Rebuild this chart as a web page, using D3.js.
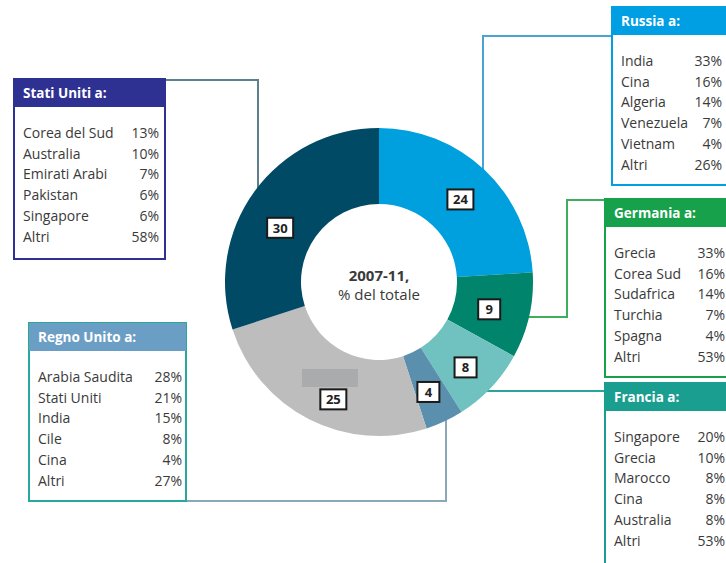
<!DOCTYPE html>
<html>
<head>
<meta charset="utf-8">
<script src="https://cdn.jsdelivr.net/npm/d3@7"></script>
<style>
  body { margin: 0; background: #fff; }
  svg { display: block; font-family: "Open Sans", "Noto Sans", sans-serif; }
</style>
</head>
<body>
<svg id="chart"></svg>
<script>
const w = 726;
const h = 563;

const svg = d3.select("#chart")
  .attr("width", w)
  .attr("height", h)
  .attr("viewBox", [0, 0, w, h]);

// quota esportazioni armi 2007-11, clockwise from 12 o'clock
const slices = [
  { key: "Russia", value: 24, color: "#009fde", nudge: [2, 2] },
  { key: "Germania", value: 9, color: "#00846c", nudge: [-3, 2] },
  { key: "Francia", value: 8, color: "#6fc2c0", nudge: [2, 6] },
  { key: "Regno Unito", value: 4, color: "#5a8fae", nudge: [0, 5] },
  { key: "Altri", value: 25, color: "#bdbdbd", nudge: [7, 14] },
  { key: "Stati Uniti", value: 30, color: "#004a66", nudge: [-5, 14] }
];

const boxes = [
  { title: "Stati Uniti a:", x: 14, y: 79, width: 151, height: 180, head: "#2e3192", border: "#2e3192",
    line: "#5e7f8c", path: [[165, 80], [258, 80], [258, 200]], valueX: 159,
    rows: [["Corea del Sud", 13], ["Australia", 10], ["Emirati Arabi", 7], ["Pakistan", 6], ["Singapore", 6], ["Altri", 58]] },
  { title: "Russia a:", x: 612, y: 7, width: 130, height: 178, head: "#009fe3", border: "#009fe3",
    line: "#4aa3d0", path: [[612, 36], [483, 36], [483, 180]], valueX: 722,
    rows: [["India", 33], ["Cina", 16], ["Algeria", 14], ["Venezuela", 7], ["Vietnam", 4], ["Altri", 26]] },
  { title: "Germania a:", x: 605, y: 199, width: 130, height: 178, head: "#18a14b", border: "#18a14b",
    line: "#3fae5a", path: [[605, 200], [567, 200], [567, 317], [500, 317]], valueX: 725,
    rows: [["Grecia", 33], ["Corea Sud", 16], ["Sudafrica", 14], ["Turchia", 7], ["Spagna", 4], ["Altri", 53]] },
  { title: "Francia a:", x: 605, y: 383, width: 130, height: 190, head: "#1a9e8f", border: "#1a9e8f",
    line: "#2aa59b", path: [[605, 391], [470, 391]], valueX: 725,
    rows: [["Singapore", 20], ["Grecia", 10], ["Marocco", 8], ["Cina", 8], ["Australia", 8], ["Altri", 53]] },
  { title: "Regno Unito a:", x: 29, y: 323, width: 157, height: 178, head: "#6b9ec5", border: "#2aa79b",
    line: "#8aa8b8", path: [[186, 501], [446, 501], [446, 400]], valueX: 182,
    rows: [["Arabia Saudita", 28], ["Stati Uniti", 21], ["India", 15], ["Cile", 8], ["Cina", 4], ["Altri", 27]] }
];

const cx = 379;
const cy = 282;
const outerR = 154;
const innerR = 78;

drawConnectors(boxes);
drawDonut(slices);
drawBoxes(boxes);

function drawConnectors(data) {
  const line = d3.line();
  svg.append("g")
    .selectAll("path")
    .data(data)
    .enter()
    .append("path")
    .attr("d", d => line(d.path))
    .attr("fill", "none")
    .attr("stroke", d => d.line)
    .attr("stroke-width", 2);
}

function drawDonut(data) {
  const pie = d3.pie().sort(null).value(d => d.value);
  const arc = d3.arc().innerRadius(innerR).outerRadius(outerR);
  const arcs = pie(data);

  const g = svg.append("g")
    .attr("transform", `translate(${cx}, ${cy})`);

  g.selectAll("path")
    .data(arcs)
    .enter()
    .append("path")
    .attr("d", arc)
    .attr("fill", d => d.data.color);

  // smudge on the grey slice, as in the original print
  g.append("rect")
    .attr("x", 302 - cx)
    .attr("y", 369 - cy)
    .attr("width", 56)
    .attr("height", 18)
    .attr("fill", "#aaabad");

  const labels = g.selectAll("g.lbl")
    .data(arcs)
    .enter()
    .append("g")
    .attr("class", "lbl")
    .attr("transform", d => {
      const c = arc.centroid(d);
      return `translate(${c[0] + d.data.nudge[0]}, ${c[1] + d.data.nudge[1]})`;
    });

  labels.append("rect")
    .attr("x", d => d.data.value < 10 ? -11 : -13)
    .attr("y", -10)
    .attr("width", d => d.data.value < 10 ? 22 : 26)
    .attr("height", 20)
    .attr("fill", "#fff")
    .attr("stroke", "#1a1a1a")
    .attr("stroke-width", 2);

  labels.append("text")
    .text(d => d.data.value)
    .attr("text-anchor", "middle")
    .attr("dy", "0.36em")
    .attr("font-size", 13)
    .attr("font-weight", "bold")
    .attr("fill", "#222");

  g.append("text")
    .text("2007-11,")
    .attr("text-anchor", "middle")
    .attr("y", -1)
    .attr("font-size", 15)
    .attr("font-weight", "bold")
    .attr("fill", "#3a3a3a");

  g.append("text")
    .text("% del totale")
    .attr("text-anchor", "middle")
    .attr("y", 18)
    .attr("font-size", 15)
    .attr("fill", "#3a3a3a");
}

function drawBoxes(data) {
  const box = svg.append("g")
    .selectAll("g")
    .data(data)
    .enter()
    .append("g");

  box.append("rect")
    .attr("x", d => d.x)
    .attr("y", d => d.y)
    .attr("width", d => d.width)
    .attr("height", d => d.height)
    .attr("fill", "#fff")
    .attr("stroke", d => d.border)
    .attr("stroke-width", 2);

  box.append("rect")
    .attr("x", d => d.x)
    .attr("y", d => d.y)
    .attr("width", d => d.width)
    .attr("height", 28)
    .attr("fill", d => d.head);

  box.append("text")
    .text(d => d.title)
    .attr("x", d => d.x + 9)
    .attr("y", d => d.y + 19)
    .attr("font-size", 13.5)
    .attr("font-weight", "bold")
    .attr("fill", "#fff");

  box.each(function(d) {
    const rowY = d3.scaleLinear().domain([0, 1]).range([d.y + 59, d.y + 59 + 20.7]);
    const rows = d3.select(this).selectAll("g.row")
      .data(d.rows)
      .enter()
      .append("g")
      .attr("class", "row");

    rows.append("text")
      .text(r => r[0])
      .attr("x", d.x + 9)
      .attr("y", (r, i) => rowY(i))
      .attr("font-size", 14)
      .attr("fill", "#3a3a3a");

    rows.append("text")
      .text(r => r[1] + "%")
      .attr("x", d.valueX)
      .attr("y", (r, i) => rowY(i))
      .attr("text-anchor", "end")
      .attr("font-size", 14)
      .attr("fill", "#3a3a3a");
  });
}
</script>
</body>
</html>
